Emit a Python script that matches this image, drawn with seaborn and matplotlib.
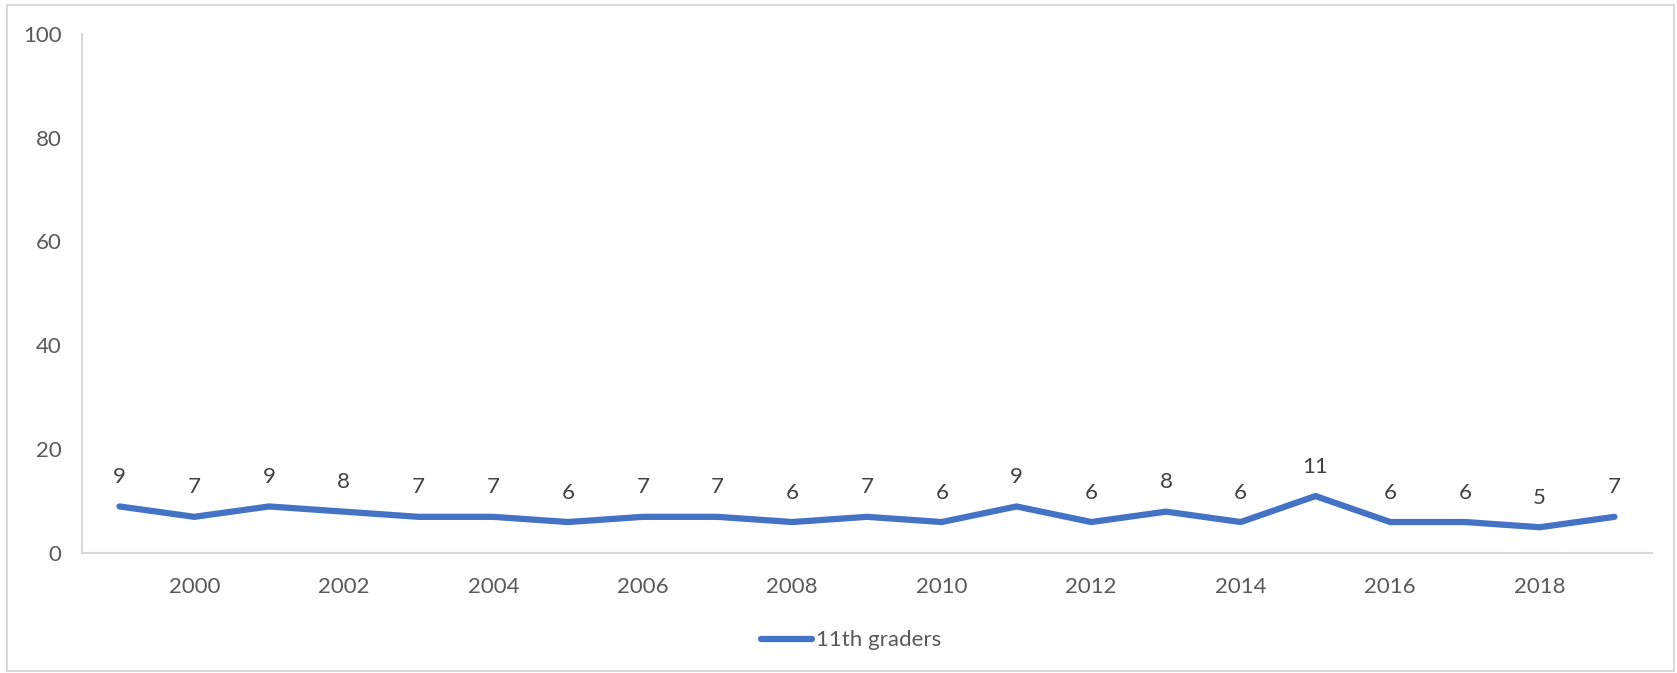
import seaborn as sns
import matplotlib.pyplot as plt
import pandas as pd
from matplotlib.patches import Rectangle

years = list(range(1999, 2020))
values = [9, 7, 9, 8, 7, 7, 6, 7, 7, 6, 7, 6, 9, 6, 8, 6, 11, 6, 6, 5, 7]
series_name = "11th graders"
tick_labels = [str(y) if y % 2 == 0 else "" for y in years]

df = pd.DataFrame({"year": years, "value": values})

sns.set_style("white")
plt.rcParams['font.family'] = ['Lato', 'DejaVu Sans']

fig = plt.figure(figsize=(16.77, 6.73), dpi=100)
ax = fig.add_axes([0.049, 0.178, 0.936, 0.772])

sns.lineplot(data=df, x="year", y="value", ax=ax, color="#4472C4",
             linewidth=4.5, label=series_name, solid_capstyle="round")

# data labels above each point
for x, v in zip(years, values):
    ax.annotate(str(v), (x, v), xytext=(0, 14), textcoords="offset points",
                ha="center", va="bottom", fontsize=16, color="#404040")

ax.set_xlim(1998.5, 2019.5)
ax.set_ylim(0, 100)
ax.set_yticks([0, 20, 40, 60, 80, 100])
ax.set_xticks(years)
ax.set_xticklabels(tick_labels)
ax.set_xlabel("")
ax.set_ylabel("")

for s in ["top", "right"]:
    ax.spines[s].set_visible(False)
for s in ["left", "bottom"]:
    ax.spines[s].set_color("#D9D9D9")
    ax.spines[s].set_linewidth(1.5)

ax.tick_params(axis="both", which="both", length=7, width=1.5, color="#D9D9D9",
               labelsize=16, labelcolor="#595959", pad=8)
ax.tick_params(axis="x", pad=10)

leg = ax.legend(loc="upper center", bbox_to_anchor=(0.49, -0.11), frameon=False,
                fontsize=16, handlelength=2.3, handletextpad=0.2)
for t in leg.get_texts():
    t.set_color("#595959")

fig.patches.append(Rectangle((0.004, 0.003), 0.994, 0.99, transform=fig.transFigure,
                             fill=False, edgecolor="#D9D9D9", linewidth=1.5))

fig.savefig("out.png", dpi=100)
